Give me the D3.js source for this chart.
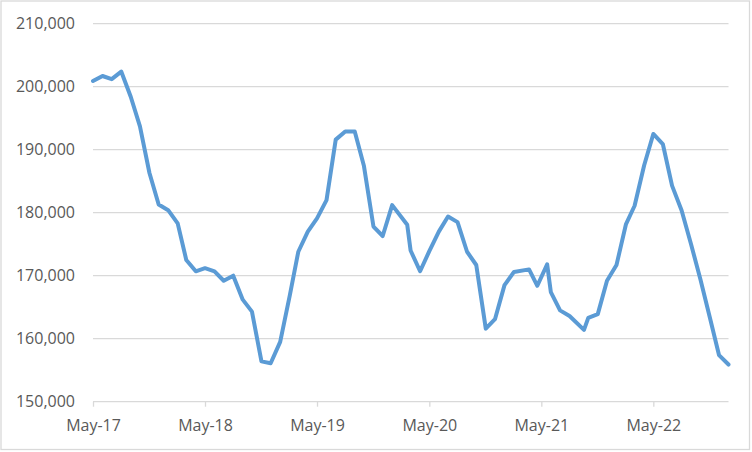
<!DOCTYPE html>
<html>
<head>
<meta charset="utf-8">
<script src="https://cdn.jsdelivr.net/npm/d3@7"></script>
<style>
  body { margin: 0; background: #fff; }
  svg text { font-family: "Open Sans", "Noto Sans", sans-serif; fill: #595959; }
</style>
</head>
<body>
<svg id="chart"></svg>
<script>
// dates of each observation (mostly monthly, a few mid-month readings)
const dates = [
  "2017-05-01","2017-06-01","2017-07-01","2017-08-01","2017-09-01","2017-10-01","2017-11-01","2017-12-01",
  "2018-01-01","2018-02-01","2018-03-01","2018-04-01","2018-05-01","2018-06-01","2018-07-01","2018-08-01",
  "2018-09-01","2018-10-01","2018-11-01","2018-12-01",
  "2019-01-01","2019-02-01","2019-03-01","2019-04-01","2019-05-01","2019-06-01","2019-07-01","2019-08-01",
  "2019-09-01","2019-10-01","2019-11-01","2019-12-01",
  "2020-01-01","2020-02-19","2020-03-01","2020-04-01","2020-05-01","2020-06-01","2020-07-01","2020-08-01",
  "2020-09-01","2020-10-01","2020-11-01","2020-12-01",
  "2021-01-01","2021-02-01","2021-03-22","2021-04-18","2021-05-20","2021-06-01","2021-07-01","2021-08-01",
  "2021-09-17","2021-10-01","2021-11-01","2021-12-01",
  "2022-01-01","2022-02-01","2022-03-01","2022-04-01","2022-05-01","2022-06-01","2022-07-01","2022-08-01",
  "2022-09-01","2022-10-01","2022-11-01","2022-12-01","2023-01-01"
]

const values = [
  200900, 201700, 201200, 202400, 198400, 193700, 186300, 181300,
  180400, 178300, 172500, 170700, 171200, 170700, 169200, 170000,
  166200, 164300, 156400, 156100,
  159500, 166800, 173800, 177000, 179100, 182000, 191600, 192900,
  192900, 187400, 177800, 176300,
  181200, 178100, 174000, 170700, 173900, 177000, 179400, 178500,
  173800, 171700, 161600, 163100,
  168500, 170600, 171000, 168400, 171800, 167400, 164500, 163600,
  161400, 163300, 163900, 169200,
  171700, 178200, 181100, 187500, 192500, 190900, 184300, 180400,
  175000, 169500, 163400, 157400, 155900
]

const xTicks = ["2017-05-01","2018-05-01","2019-05-01","2020-05-01","2021-05-01","2022-05-01"]
const yTicks = [150000, 160000, 170000, 180000, 190000, 200000, 210000]

const width = 752, height = 452
const margin = {top: 23.7, right: 23.5, bottom: 50.3, left: 93}

const parse = d3.timeParse("%Y-%m-%d")
const data = dates.map((d, i) => ({date: parse(d), value: values[i]}))

const svg = d3.select("#chart")
    .attr("width", width)
    .attr("height", height)

// chart area border
svg.append("rect")
    .attr("x", 1).attr("y", 1)
    .attr("width", width - 3.5).attr("height", height - 3.5)
    .attr("fill", "#fff")
    .attr("stroke", "#d9d9d9")
    .attr("stroke-width", 1.3)

const x = d3.scaleTime()
    .domain([parse(dates[0]), parse(dates[dates.length - 1])])
    .range([margin.left, width - margin.right])

const y = d3.scaleLinear()
    .domain([150000, 210000])
    .range([height - margin.bottom, margin.top])

// horizontal gridlines
svg.append("g")
    .selectAll("line")
    .data(yTicks)
    .enter().append("line")
    .attr("x1", margin.left)
    .attr("x2", width - margin.right)
    .attr("y1", d => y(d))
    .attr("y2", d => y(d))
    .attr("stroke", "#d9d9d9")
    .attr("stroke-width", 1.3)

// y axis labels
const yAxis = svg.append("g")
    .attr("transform", `translate(${margin.left},0)`)
    .call(d3.axisLeft(y).tickValues(yTicks).tickSize(0).tickPadding(18).tickFormat(d3.format(",")))
yAxis.select(".domain").remove()
yAxis.selectAll("text").style("font-size", "16px")

// x axis
const xAxis = svg.append("g")
    .attr("transform", `translate(0,${y(150000)})`)
    .call(d3.axisBottom(x).tickValues(xTicks.map(parse)).tickSize(5).tickSizeOuter(0)
        .tickFormat(d3.timeFormat("%b-%y")))
xAxis.select(".domain").remove()
xAxis.selectAll(".tick line").attr("stroke", "#d9d9d9").attr("stroke-width", 1.3)
xAxis.selectAll("text")
    .style("font-size", "16px")
    .attr("y", 18)
    .attr("dy", "0.71em")

const line = d3.line()
    .x(d => x(d.date))
    .y(d => y(d.value))

svg.append("path")
    .datum(data)
    .attr("fill", "none")
    .attr("stroke", "#5b9bd5")
    .attr("stroke-width", 4)
    .attr("stroke-linejoin", "round")
    .attr("stroke-linecap", "round")
    .attr("d", line)
</script>
</body>
</html>
